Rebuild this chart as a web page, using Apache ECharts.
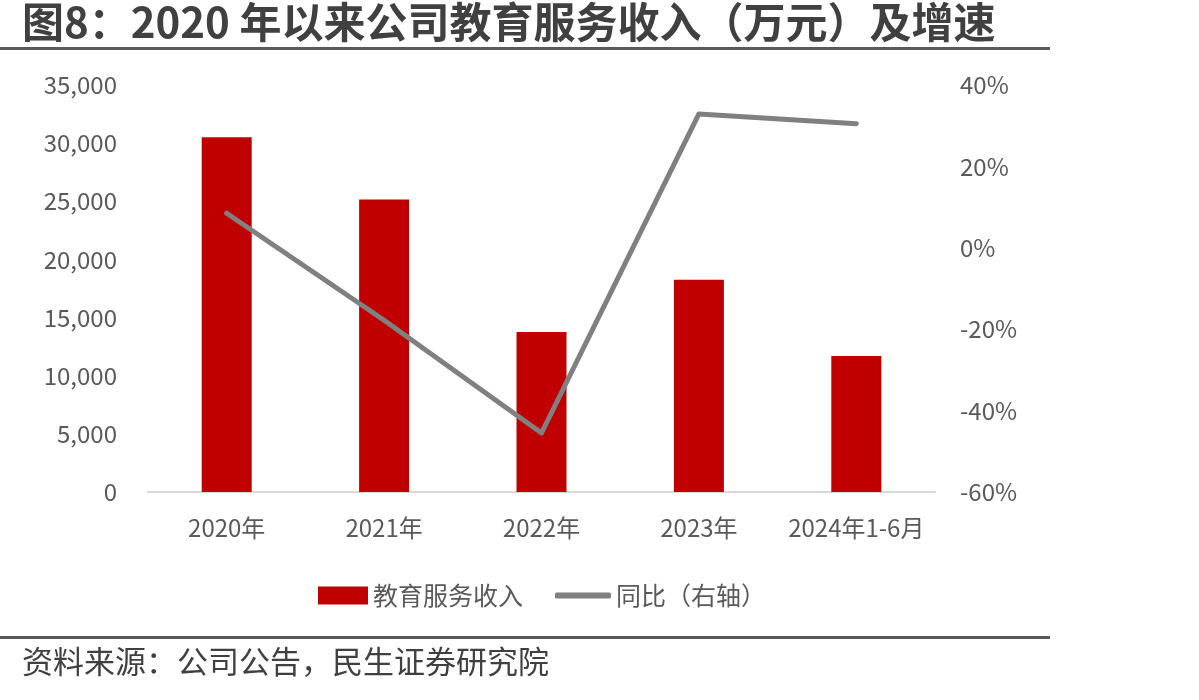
<!DOCTYPE html>
<html>
<head>
<meta charset="utf-8">
<script src="https://cdn.jsdelivr.net/npm/echarts@6/dist/echarts.min.js"></script>
<style>
  html, body { margin: 0; padding: 0; background: #fff; }
  #main { width: 1199px; height: 700px; }
</style>
</head>
<body>
<div id="main"></div>
<script>
const categories = ["2020年", "2021年", "2022年", "2023年", "2024年1-6月"];
const revenue = [30500, 25150, 13750, 18250, 11700];
const yoy = [8.5, -17.8, -45.5, 32.9, 30.5];
const leftTicks = { min: 0, max: 35000, interval: 5000 };
const rightTicks = { min: -60, max: 40, interval: 20 };

const font = '"Noto Sans CJK SC", "Noto Sans", sans-serif';
const chart = echarts.init(document.getElementById("main"));

const legendText = { color: "#595959", fontSize: 25, fontFamily: font };

const option = {
  backgroundColor: "#fff",
  textStyle: { fontFamily: font },
  animation: false,
  grid: { left: 148, right: 264, top: 85, bottom: 208 },
  legend: [
    {
      top: 578,
      left: 313,
      itemWidth: 50,
      itemHeight: 18,
      textStyle: legendText,
      data: [{ name: "教育服务收入", icon: "rect" }]
    },
    {
      top: 578,
      left: 550,
      itemWidth: 56,
      itemHeight: 6,
      textStyle: legendText,
      data: [{ name: "同比（右轴）", icon: "roundRect" }]
    }
  ],
  xAxis: {
    type: "category",
    data: categories,
    axisLine: { lineStyle: { color: "#d9d9d9", width: 2 } },
    axisTick: { show: false },
    axisLabel: { color: "#595959", fontSize: 24, margin: 24, interval: 0, fontFamily: font }
  },
  yAxis: [
    {
      type: "value",
      min: leftTicks.min,
      max: leftTicks.max,
      interval: leftTicks.interval,
      splitLine: { show: false },
      axisLine: { show: false },
      axisTick: { show: false },
      axisLabel: {
        color: "#595959",
        fontSize: 24,
        margin: 31,
        fontFamily: font,
        formatter: v => v.toLocaleString("en-US")
      }
    },
    {
      type: "value",
      min: rightTicks.min,
      max: rightTicks.max,
      interval: rightTicks.interval,
      splitLine: { show: false },
      axisLine: { show: false },
      axisTick: { show: false },
      axisLabel: {
        color: "#595959",
        fontSize: 24,
        margin: 25,
        fontFamily: font,
        formatter: v => v + "%"
      }
    }
  ],
  series: [
    {
      name: "教育服务收入",
      type: "bar",
      data: revenue,
      barWidth: 50,
      itemStyle: { color: "#c00000" }
    },
    {
      name: "同比（右轴）",
      type: "line",
      yAxisIndex: 1,
      data: yoy,
      symbol: "none",
      lineStyle: { color: "#808080", width: 5, cap: "round", join: "round" },
      itemStyle: { color: "#808080" }
    }
  ],
  graphic: [
    {
      type: "text",
      left: 22,
      top: 1,
      style: {
        text: "图8：2020 年以来公司教育服务收入（万元）及增速",
        fill: "#404040",
        font: "bold 42px " + font
      }
    },
    {
      type: "rect",
      shape: { x: 0, y: 47, width: 1050, height: 3 },
      style: { fill: "#595959" }
    },
    {
      type: "rect",
      shape: { x: 0, y: 636, width: 1050, height: 3 },
      style: { fill: "#595959" }
    },
    {
      type: "text",
      left: 22,
      top: 646,
      style: {
        text: "资料来源：公司公告，民生证券研究院",
        fill: "#404040",
        font: "31px " + font
      }
    }
  ]
};

chart.setOption(option);
</script>
</body>
</html>
